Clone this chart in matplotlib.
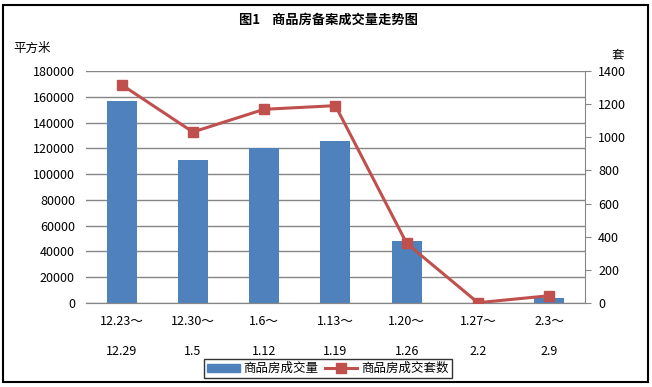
import matplotlib
matplotlib.use('Agg')
import matplotlib.pyplot as plt
from matplotlib.patches import Rectangle, Patch
from matplotlib.lines import Line2D
import numpy as np

plt.rcParams['font.family'] = ['Noto Sans CJK SC', 'DejaVu Sans']

# 数据
weeks_start = ['12.23～', '12.30～', '1.6～', '1.13～', '1.20～', '1.27～', '2.3～']
weeks_end = ['12.29', '1.5', '1.12', '1.19', '1.26', '2.2', '2.9']
area = [156500, 111000, 120500, 126000, 48000, 0, 3900]      # 平方米
units = [1317, 1032, 1169, 1191, 360, 2, 44]                 # 套

bar_color = '#4F81BD'
line_color = '#C0504D'
grid_color = '#868686'

fig = plt.figure(figsize=(6.52, 3.87), dpi=100)
ax = fig.add_axes([0.1319, 0.217, 0.7651, 0.5995])
ax2 = ax.twinx()

x = np.arange(len(area))
ax.bar(x, area, width=0.42, color=bar_color, zorder=2)
ax.set_xlim(-0.5, len(area) - 0.5)
ax.set_ylim(0, 180000)
ax.set_yticks(np.arange(0, 180001, 20000))
ax.yaxis.grid(True, color=grid_color, linewidth=1)
ax.set_axisbelow(True)
ax.tick_params(axis='y', length=0, pad=8, labelsize=9)
ax.set_xticks(x)
ax.set_xticklabels([])
ax.tick_params(axis='x', length=0)

ax2.plot(x, units, color=line_color, linewidth=2.2, marker='s',
         markersize=7.5, zorder=3)
ax2.set_ylim(0, 1400)
ax2.set_yticks(np.arange(0, 1401, 200))
ax2.tick_params(axis='y', length=4.5, color=grid_color, pad=5, labelsize=9)

for a in (ax, ax2):
    a.spines['top'].set_visible(False)
    a.spines['left'].set_visible(False)
    a.spines['right'].set_visible(False)
    a.spines['bottom'].set_color(grid_color)
ax2.spines['right'].set_visible(True)
ax2.spines['right'].set_color(grid_color)

# 两行日期标签
trans = ax.get_xaxis_transform()
for i in x:
    ax.text(i, -0.078, weeks_start[i], transform=trans, ha='center', va='center', fontsize=9)
    ax.text(i, -0.211, weeks_end[i], transform=trans, ha='center', va='center', fontsize=9)

fig.text(0.503, 0.948, '图1    商品房备案成交量走势图', ha='center', va='center',
         fontsize=9.5, fontweight='bold')
fig.text(0.021, 0.876, '平方米', ha='left', va='center', fontsize=9)
fig.text(0.938, 0.858, '套', ha='left', va='center', fontsize=9)

handles = [Patch(color=bar_color), Line2D([], [], color=line_color, linewidth=2.2,
                                          marker='s', markersize=7.5)]
leg = fig.legend(handles, ['商品房成交量', '商品房成交套数'], loc='center',
                 bbox_to_anchor=(0.503, 0.047), ncol=2, fontsize=9,
                 frameon=True, fancybox=False, edgecolor='black',
                 handlelength=2.6, handletextpad=0.3, columnspacing=0.5,
                 borderpad=0.25, borderaxespad=0)
leg.get_frame().set_linewidth(1)

fig.patches.append(Rectangle((0.005, 0.012), 0.989, 0.976, transform=fig.transFigure,
                             fill=False, edgecolor='black', linewidth=1.5))

fig.savefig('out.png', dpi=100)
